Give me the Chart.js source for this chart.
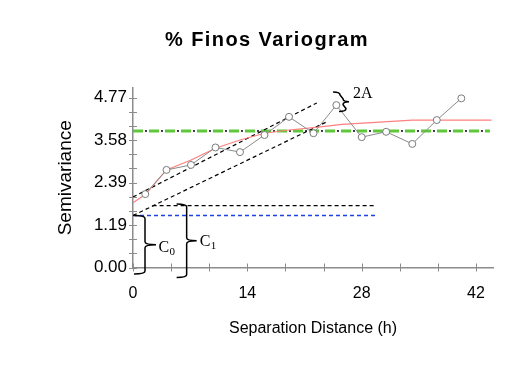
<!DOCTYPE html>
<html>
<head>
<meta charset="utf-8">
<script src="https://cdn.jsdelivr.net/npm/chart.js@4.4.0/dist/chart.umd.min.js"></script>
<style>
  html, body { margin: 0; padding: 0; background: #fff; }
  canvas { display: block; }
</style>
</head>
<body>
<canvas id="myChart" width="531" height="367"></canvas>
<script>
// experimental semivariogram (lag distance / semivariance)
var lagDist = [1.5, 4.1, 7.1, 10.1, 13.1, 16.1, 19.1, 22.1, 24.9, 28.0, 31.0, 34.2, 37.2, 40.2];
var semivar = [2.06, 2.74, 2.88, 3.37, 3.24, 3.72, 4.23, 3.77, 4.56, 3.66, 3.81, 3.47, 4.14, 4.75];

// fitted model curve
var modelDist = [0, 1.5, 4.1, 7.1, 10.1, 13.1, 16.1, 19.1, 22.1, 25.6, 29.2, 34.2, 43.9];
var modelVal = [1.82, 2.05, 2.74, 3.02, 3.35, 3.58, 3.77, 3.86, 3.93, 4.02, 4.07, 4.14, 4.14];

// reference lines
var sillValue = 3.83;
var sillEnd = 43.7;
var nuggetValue = 1.46;
var nuggetEnd = 29.8;
var c0c1Value = 1.74;
var c0c1Range = [2.4, 29.6];
var upperSlopeX = [0, 22.5];
var upperSlopeY = [1.98, 4.62];
var lowerSlopeX = [0, 23.9];
var lowerSlopeY = [1.46, 4.11];

// axes
var xTicks = [0, 14, 28, 42];
var yTicks = [0, 1.1925, 2.385, 3.5775, 4.77];
var yTickLabels = ['0.00', '1.19', '2.39', '3.58', '4.77'];

function pts(xs, ys) {
    return xs.map(function (x, i) { return { x: x, y: ys[i] }; });
}

var sansFont = "'Liberation Sans', Arial, sans-serif";
var serifFont = "'Liberation Serif', 'Times New Roman', serif";
var axisGray = '#8c8c8c';

function drawBrace(ctx, xt, yt, xb, yb, hook, tip) {
    var xm = (xt + xb) / 2, ym = (yt + yb) / 2, r = 3;
    ctx.beginPath();
    ctx.moveTo(xt - hook, yt);
    ctx.quadraticCurveTo(xt, yt, xt, yt + r);
    ctx.lineTo(xm, ym - r);
    ctx.quadraticCurveTo(xm, ym, xm + tip, ym);
    ctx.quadraticCurveTo(xm, ym, xm, ym + r);
    ctx.lineTo(xb, yb - r);
    ctx.quadraticCurveTo(xb, yb, xb - hook, yb);
    ctx.stroke();
    return { x: xm + tip, y: ym };
}

var decorPlugin = {
    id: 'decor',
    afterDraw: function (chart) {
        var ctx = chart.ctx;
        var xs = chart.scales.x, ys = chart.scales.y;
        var area = chart.chartArea;
        ctx.save();

        // title
        ctx.fillStyle = '#000';
        ctx.font = 'bold 20px ' + sansFont;
        ctx.letterSpacing = '1.4px';
        ctx.textAlign = 'center';
        ctx.textBaseline = 'alphabetic';
        ctx.fillText('% Finos Variogram', 267, 46);
        ctx.letterSpacing = '0px';

        // tick marks crossing the axes
        ctx.strokeStyle = axisGray;
        ctx.lineWidth = 1;
        var i, p;
        for (i = 0; i <= 12; i++) {
            p = Math.round(ys.getPixelForValue(i * 4.77 / 12)) + 0.5;
            ctx.beginPath();
            ctx.moveTo(area.left - 4, p);
            ctx.lineTo(area.left + 4, p);
            ctx.stroke();
        }
        for (i = 0; i <= 9; i++) {
            p = Math.round(xs.getPixelForValue(i * 14 / 3)) + 0.5;
            ctx.beginPath();
            ctx.moveTo(p, area.bottom - 4);
            ctx.lineTo(p, area.bottom + 4);
            ctx.stroke();
        }

        // braces and labels
        ctx.strokeStyle = '#000';
        ctx.lineWidth = 1.5;
        ctx.fillStyle = '#000';
        ctx.textAlign = 'left';

        var c0 = drawBrace(ctx, xs.getPixelForValue(1.47), ys.getPixelForValue(nuggetValue),
            xs.getPixelForValue(1.47), ys.getPixelForValue(-0.18), 11, 11);
        ctx.font = '16px ' + serifFont;
        ctx.fillText('C', c0.x + 2.5, c0.y + 7.5);
        ctx.font = '11px ' + serifFont;
        ctx.fillText('0', c0.x + 13.5, c0.y + 10.5);

        var c1 = drawBrace(ctx, xs.getPixelForValue(6.57), ys.getPixelForValue(1.78),
            xs.getPixelForValue(6.57), ys.getPixelForValue(-0.28), 10, 10);
        ctx.font = '16px ' + serifFont;
        ctx.fillText('C', c1.x + 3, c1.y + 5.5);
        ctx.font = '11px ' + serifFont;
        ctx.fillText('1', c1.x + 14, c1.y + 8);

        var a2 = drawBrace(ctx, xs.getPixelForValue(25.35), ys.getPixelForValue(4.93),
            xs.getPixelForValue(26.08), ys.getPixelForValue(4.38), 7, 6);
        ctx.font = '16px ' + serifFont;
        ctx.fillText('2A', a2.x + 4, a2.y - 3.5);

        ctx.restore();
    }
};

var dashedBlack = { borderColor: '#000', borderWidth: 1.2, borderDash: [4, 3] };

function lineSet(data, style) {
    var ds = { data: data, pointRadius: 0, tension: 0, fill: false };
    for (var k in style) ds[k] = style[k];
    return ds;
}

var ctx = document.getElementById('myChart').getContext('2d');

var myChart = new Chart(ctx, {
    type: 'line',
    data: {
        datasets: [
            {
                data: pts(lagDist, semivar),
                borderColor: '#8a8a8a',
                borderWidth: 1,
                pointRadius: 3.5,
                pointBorderColor: '#7a7a7a',
                pointBackgroundColor: '#fff',
                pointBorderWidth: 1,
                tension: 0,
                fill: false
            },
            lineSet(pts(modelDist, modelVal), { borderColor: '#ff8080', borderWidth: 1.2 }),
            lineSet(pts(upperSlopeX, upperSlopeY), dashedBlack),
            lineSet(pts(lowerSlopeX, lowerSlopeY), dashedBlack),
            lineSet(pts(c0c1Range, [c0c1Value, c0c1Value]), dashedBlack),
            lineSet(pts([0, sillEnd], [sillValue, sillValue]),
                { borderColor: '#000', borderWidth: 1.5, borderDash: [2, 14], borderDashOffset: 4 }),
            lineSet(pts([0, sillEnd], [sillValue, sillValue]),
                { borderColor: '#5ec83a', borderWidth: 3, borderDash: [10, 6] }),
            lineSet(pts([0, nuggetEnd], [nuggetValue, nuggetValue]),
                { borderColor: '#1a40e6', borderWidth: 1.6, borderDash: [4, 3] })
        ]
    },
    options: {
        responsive: false,
        animation: false,
        layout: { padding: { top: 88, right: 38, left: 0, bottom: 0 } },
        plugins: {
            legend: { display: false },
            tooltip: { enabled: false }
        },
        scales: {
            x: {
                type: 'linear',
                min: 0,
                max: 44.08,
                afterFit: function (scale) { scale.height = 99.5; },
                afterBuildTicks: function (scale) {
                    scale.ticks = xTicks.map(function (v) { return { value: v }; });
                },
                ticks: {
                    color: '#000',
                    font: { family: sansFont, size: 16 },
                    padding: 12,
                    autoSkip: false,
                    maxRotation: 0,
                    callback: function (v) { return String(v); }
                },
                grid: { display: true, drawOnChartArea: false, drawTicks: true, tickLength: 4, color: 'rgba(0,0,0,0)' },
                border: { display: true, color: axisGray, width: 1.5 },
                title: {
                    display: true,
                    text: 'Separation Distance (h)',
                    color: '#000',
                    font: { family: sansFont, size: 16 },
                    padding: { top: 0, bottom: 29 }
                }
            },
            y: {
                type: 'linear',
                min: 0,
                max: 5.04,
                afterFit: function (scale) { scale.width = 133; },
                afterBuildTicks: function (scale) {
                    scale.ticks = yTicks.map(function (v) { return { value: v }; });
                },
                ticks: {
                    color: '#000',
                    font: { family: sansFont, size: 17 },
                    padding: 2,
                    autoSkip: false,
                    callback: function (v, i) { return yTickLabels[i]; }
                },
                grid: { display: true, drawOnChartArea: false, drawTicks: true, tickLength: 4, color: 'rgba(0,0,0,0)' },
                border: { display: true, color: axisGray, width: 1.5 },
                title: {
                    display: true,
                    text: 'Semivariance',
                    color: '#000',
                    font: { family: sansFont, size: 19 },
                    padding: { top: 54, bottom: 0 }
                }
            }
        }
    },
    plugins: [decorPlugin]
});
</script>
</body>
</html>
